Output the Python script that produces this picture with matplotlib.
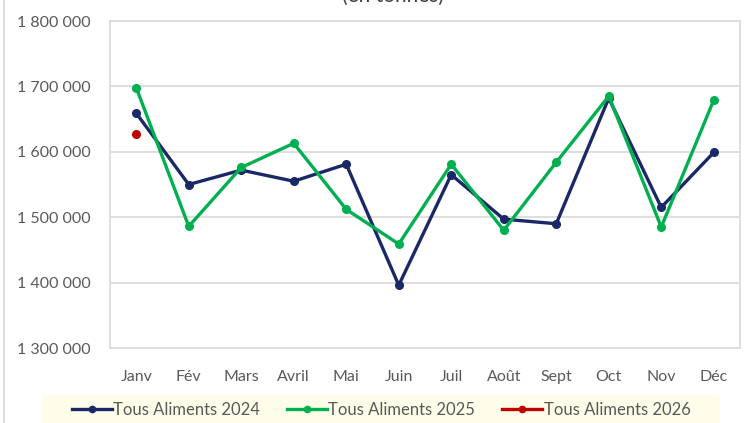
import matplotlib
matplotlib.use("Agg")
import matplotlib.pyplot as plt
from matplotlib.lines import Line2D
from matplotlib.patches import Rectangle
from matplotlib.ticker import FuncFormatter

plt.rcParams['font.family'] = ['Lato', 'DejaVu Sans']

months = ["Janv", "Fév", "Mars", "Avril", "Mai", "Juin", "Juil", "Août", "Sept", "Oct", "Nov", "Déc"]
s2024 = [1659000, 1550000, 1572000, 1555000, 1581000, 1396000, 1565000, 1497000, 1490000, 1682000, 1515000, 1599000]
s2025 = [1698000, 1486000, 1576000, 1613000, 1512000, 1459000, 1581000, 1480000, 1584000, 1685000, 1485000, 1679000]
s2026 = [1627000]
labels = ["Tous Aliments 2024", "Tous Aliments 2025", "Tous Aliments 2026"]
yticks = [1300000, 1400000, 1500000, 1600000, 1700000, 1800000]

c24, c25, c26 = "#1a2868", "#00b050", "#c00000"
grid_c = "#d9d9d9"
txt_c = "#595959"

fig = plt.figure(figsize=(7.45, 4.23), dpi=100)
ax = fig.add_axes([110/745, 1-348/423, 630/745, 327/423])

x = list(range(len(months)))
ax.plot(x, s2024, color=c24, lw=2.4, marker='o', ms=5.5, zorder=3)
ax.plot(x, s2025, color=c25, lw=2.4, marker='o', ms=5.5, zorder=4)
ax.plot(x[:len(s2026)], s2026, color=c26, lw=2.4, marker='o', ms=5.5, zorder=5)

ax.set_xlim(-0.5, 11.5)
ax.set_ylim(1300000, 1800000)
ax.set_yticks(yticks)
ax.yaxis.set_major_formatter(FuncFormatter(lambda v, p: f"{int(v):,}".replace(",", " ")))
ax.set_xticks(x)
ax.set_xticklabels(months)
ax.tick_params(axis='both', length=0, colors=txt_c, labelsize=11.5)
ax.tick_params(axis='y', pad=14)
ax.tick_params(axis='x', pad=16)
ax.grid(axis='y', color=grid_c, lw=1.2)
ax.set_axisbelow(True)
for sp in ax.spines.values():
    sp.set_color(grid_c)
    sp.set_linewidth(1.2)

# partial title at top (clipped in the reference screenshot)
fig.text(393/745, 1-1.5/423, "(en tonnes)", ha='center', va='baseline', fontsize=15, color="#404040")

# left border of chart area
fig.add_artist(Line2D([4/745, 4/745], [0, 1], transform=fig.transFigure, color=grid_c, lw=1.2))

# legend background
fig.add_artist(Rectangle((42/745, 0), (720-42)/745, 28/423, transform=fig.transFigure,
                         facecolor="#fdfde9", edgecolor='none', zorder=0))
handles = [Line2D([0], [0], color=c, lw=2.4, marker='o', ms=4.5) for c in (c24, c25, c26)]
fig.legend(handles, labels, loc='center', bbox_to_anchor=(381/745, 1-410/423), ncol=3,
           frameon=False, fontsize=12, labelcolor=txt_c, handlelength=2.4, handletextpad=0.1,
           columnspacing=1.6)

fig.savefig("out.png", dpi=100)
